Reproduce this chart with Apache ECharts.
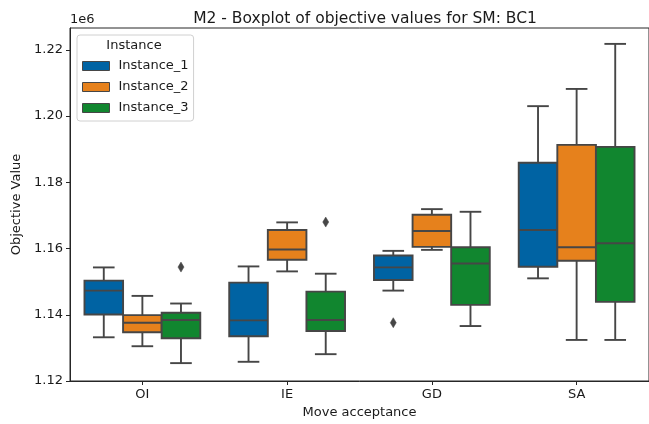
<!DOCTYPE html>
<html>
<head>
<meta charset="utf-8">
<script src="https://cdn.jsdelivr.net/npm/echarts@6/dist/echarts.min.js"></script>
<style>
html,body{margin:0;padding:0;background:#fff;}
#chart{width:649px;height:424px;}
</style>
</head>
<body>
<div id="chart"></div>
<script>
// ---- data ----
const categories = ['OI', 'IE', 'GD', 'SA'];
const instanceNames = ['Instance_1', 'Instance_2', 'Instance_3'];
// [min whisker, Q1, median, Q3, max whisker] per category
const instance1 = [
  [1133200, 1140100, 1147300, 1150300, 1154300],
  [1125800, 1133500, 1138300, 1149700, 1154600],
  [1147300, 1150500, 1154300, 1157900, 1159300],
  [1151000, 1154500, 1165600, 1185900, 1203000]
];
const instance2 = [
  [1130500, 1134700, 1137600, 1139900, 1145700],
  [1153100, 1156600, 1159700, 1165600, 1167900],
  [1159600, 1160500, 1165300, 1170200, 1171900],
  [1132400, 1156300, 1160400, 1191300, 1208200]
];
const instance3 = [
  [1125400, 1132900, 1138400, 1140600, 1143400],
  [1128100, 1135100, 1138400, 1147000, 1152400],
  [1136600, 1143000, 1155500, 1160400, 1171100],
  [1132400, 1143900, 1161600, 1190700, 1221800]
];
// outliers: [category index, value]
const outliers1 = [[2, 1137600]];
const outliers2 = [];
const outliers3 = [[0, 1154400], [1, 1168000]];
const yTicks = [1120000, 1140000, 1160000, 1180000, 1200000, 1220000];

const boxData = [instance1, instance2, instance3];
const outlierData = [outliers1, outliers2, outliers3];
const colors = ['#0063a3', '#e6811c', '#11862f'];
const lineColor = '#464646';
const font = 'DejaVu Sans';

function boxRender(si) {
  return function (params, api) {
    const cat = api.value(0);
    const bw = api.size([1, 0])[0];
    const boxW = bw * 0.8 / 3;
    const cx = api.coord([cat, yTicks[0]])[0] + (si - 1) * boxW;
    const y = [1, 2, 3, 4, 5].map(i => api.coord([cat, api.value(i)])[1]);
    const x0 = cx - boxW / 2, x1 = cx + boxW / 2;
    const capW = boxW * 0.56;
    const ls = { stroke: lineColor, lineWidth: 1.9 };
    return {
      type: 'group',
      children: [
        { type: 'line', shape: { x1: cx, y1: y[0], x2: cx, y2: y[1] }, style: ls },
        { type: 'line', shape: { x1: cx, y1: y[3], x2: cx, y2: y[4] }, style: ls },
        { type: 'line', shape: { x1: cx - capW / 2, y1: y[0], x2: cx + capW / 2, y2: y[0] }, style: ls },
        { type: 'line', shape: { x1: cx - capW / 2, y1: y[4], x2: cx + capW / 2, y2: y[4] }, style: ls },
        { type: 'rect', shape: { x: x0, y: y[3], width: boxW, height: y[1] - y[3] },
          style: { fill: colors[si], stroke: lineColor, lineWidth: 1.9 } },
        { type: 'line', shape: { x1: x0, y1: y[2], x2: x1, y2: y[2] }, style: ls }
      ]
    };
  };
}
function outlierRender(si) {
  return function (params, api) {
    const cat = api.value(0);
    const bw = api.size([1, 0])[0];
    const boxW = bw * 0.8 / 3;
    const c = api.coord([cat, api.value(1)]);
    const cx = c[0] + (si - 1) * boxW, cy = c[1];
    return {
      type: 'polygon',
      shape: { points: [[cx, cy - 5], [cx + 3, cy], [cx, cy + 5], [cx - 3, cy]] },
      style: { fill: lineColor, stroke: lineColor, lineWidth: 0.5 }
    };
  };
}

const series = [];
boxData.forEach((arr, si) => {
  series.push({
    name: instanceNames[si],
    type: 'custom',
    renderItem: boxRender(si),
    itemStyle: { color: colors[si], borderColor: lineColor },
    encode: { x: 0, y: [1, 2, 3, 4, 5] },
    data: arr.map((v, ci) => [ci].concat(v)),
    z: 2
  });
});
outlierData.forEach((arr, si) => {
  series.push({
    name: instanceNames[si] + ' outliers',
    type: 'custom',
    renderItem: outlierRender(si),
    encode: { x: 0, y: 1 },
    data: arr,
    z: 3
  });
});

const chart = echarts.init(document.getElementById('chart'), null, { renderer: 'canvas' });
chart.setOption({
  animation: false,
  backgroundColor: '#ffffff',
  textStyle: { fontFamily: font },
  title: {
    text: 'M2 - Boxplot of objective values for SM: BC1',
    left: 360, top: 6, textAlign: 'center',
    textStyle: { fontFamily: font, fontSize: 15.5, fontWeight: 'normal', color: '#1a1a1a' }
  },
  grid: { left: 70, right: 0, top: 28, bottom: 40, show: true, borderColor: '#262626', borderWidth: 1, containLabel: false },
  legend: {
    data: instanceNames.map((n, i) => ({ name: n, icon: 'rect', itemStyle: { color: colors[i], borderColor: lineColor, borderWidth: 1 } })),
    orient: 'vertical',
    left: 77, top: 35,
    padding: [24, 5, 6, 5],
    itemWidth: 27, itemHeight: 9, itemGap: 7,
    backgroundColor: 'rgba(255,255,255,0.85)',
    borderColor: '#d0d0d0', borderWidth: 1, borderRadius: 3,
    textStyle: { fontFamily: font, fontSize: 13, color: '#1a1a1a', lineHeight: 14, padding: [0, 0, 0, 4] }
  },
  graphic: [
    { type: 'text', x: 134, y: 46, z: 100,
      style: { text: 'Instance', fontFamily: font, fontSize: 13, fill: '#1a1a1a', textAlign: 'center', textVerticalAlign: 'middle' } },
    { type: 'text', x: 70, y: 19.5, z: 100,
      style: { text: '1e6', fontFamily: font, fontSize: 13, fill: '#1a1a1a', textAlign: 'left', textVerticalAlign: 'middle' } }
  ],
  xAxis: {
    type: 'category',
    data: categories,
    name: 'Move acceptance', nameLocation: 'middle', nameGap: 25,
    nameTextStyle: { fontFamily: font, fontSize: 13, color: '#1a1a1a' },
    axisLine: { show: true, lineStyle: { color: '#262626', width: 1 } },
    axisTick: { show: true, alignWithLabel: true, length: 4, lineStyle: { color: '#262626' } },
    axisLabel: { fontFamily: font, fontSize: 13, color: '#1a1a1a', margin: 7 },
    splitLine: { show: false }
  },
  yAxis: {
    type: 'value',
    min: 1120000, max: 1226600, interval: 20000,
    name: 'Objective Value', nameLocation: 'middle', nameGap: 46, nameRotate: 90,
    nameTextStyle: { fontFamily: font, fontSize: 13, color: '#1a1a1a' },
    axisLine: { show: true, lineStyle: { color: '#262626', width: 1 } },
    axisTick: { show: true, length: 4, lineStyle: { color: '#262626' }, customValues: yTicks },
    axisLabel: { fontFamily: font, fontSize: 13, color: '#1a1a1a', margin: 7,
      customValues: yTicks,
      formatter: v => (v / 1e6).toFixed(2) },
    splitLine: { show: false }
  },
  series: series
});
</script>
</body>
</html>
